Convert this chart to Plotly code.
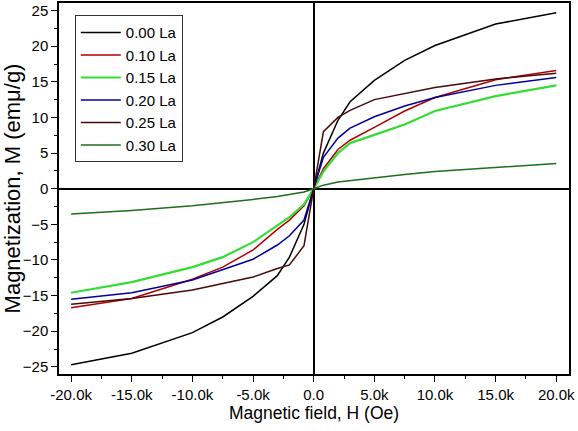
import plotly.graph_objects as go

field = [-20000, -15000, -10000, -7500, -5000, -3000, -2000, -800, 0,
         800, 2000, 3000, 5000, 7500, 10000, 15000, 20000]

m_000 = [-24.7, -23.1, -20.2, -18.0, -15.1, -12.2, -9.6, -5.0, 0,
         5.0, 9.6, 12.2, 15.2, 18.0, 20.1, 23.1, 24.7]
m_010 = [-16.7, -15.4, -12.7, -11.0, -8.6, -5.7, -4.4, -2.4, 0,
         2.8, 5.5, 6.8, 8.6, 10.9, 12.8, 15.3, 16.6]
m_015 = [-14.6, -13.1, -11.0, -9.6, -7.5, -5.2, -4.0, -2.2, 0,
         2.4, 5.0, 6.4, 7.6, 9.0, 10.9, 13.0, 14.5]
m_020 = [-15.5, -14.6, -12.8, -11.4, -9.9, -7.9, -6.6, -4.4, 0,
         4.4, 7.1, 8.5, 10.1, 11.6, 12.8, 14.5, 15.6]
m_025 = [-16.2, -15.4, -14.2, -13.3, -12.4, -11.2, -10.7, -8.0, 0,
         8.0, 10.0, 11.0, 12.5, 13.4, 14.2, 15.4, 16.2]
m_030 = [-3.55, -3.05, -2.4, -2.0, -1.5, -1.1, -0.85, -0.45, 0,
         0.5, 0.95, 1.15, 1.55, 2.0, 2.4, 3.0, 3.55]

series_names = ["0.00 La", "0.10 La", "0.15 La", "0.20 La", "0.25 La", "0.30 La"]
series_values = [m_000, m_010, m_015, m_020, m_025, m_030]
series_colors = ["#000000", "#b00000", "#33dd33", "#000099", "#4a0808", "#1e6e1e"]
series_widths = [1.5, 1.5, 2.2, 1.5, 1.5, 1.5]

x_tickvals = [-20000, -15000, -10000, -5000, 0, 5000, 10000, 15000, 20000]
x_ticktext = ["-20.0k", "-15.0k", "-10.0k", "-5.0k", "0.0", "5.0k", "10.0k", "15.0k", "20.0k"]
y_tickvals = [-25, -20, -15, -10, -5, 0, 5, 10, 15, 20, 25]

fig = go.Figure()
for name, vals, col, w in zip(series_names, series_values, series_colors, series_widths):
    fig.add_trace(go.Scatter(x=field, y=vals, mode="lines", name=name,
                             line=dict(color=col, width=w)))

font_main = "Liberation Sans, Arial, sans-serif"
fig.update_layout(
    width=578, height=431,
    margin=dict(l=59, r=9, t=3, b=57),
    plot_bgcolor="white", paper_bgcolor="white",
    font=dict(family=font_main, size=15, color="black"),
    showlegend=True,
    legend=dict(x=0.031, y=0.967, xanchor="left", yanchor="top",
                bgcolor="white", bordercolor="#333333", borderwidth=1,
                itemwidth=40,
                font=dict(size=15, family=font_main), tracegroupgap=0),
    xaxis=dict(range=[-21000, 21050], tickvals=x_tickvals, ticktext=x_ticktext,
               automargin=False,
               showgrid=False, zeroline=True, zerolinecolor="black", zerolinewidth=1.5,
               showline=True, linecolor="black", linewidth=1.5, mirror=True,
               ticks="outside", ticklen=6, tickwidth=1.2, tickcolor="black",
               minor=dict(ticks="outside", ticklen=3, dtick=2500, tick0=0, tickcolor="black"),
               title=dict(text="Magnetic field, H (Oe)", font=dict(size=17.5), standoff=4)),
    yaxis=dict(range=[-26, 26.06], tickvals=y_tickvals,
               automargin=False,
               showgrid=False, zeroline=True, zerolinecolor="black", zerolinewidth=1.5,
               showline=True, linecolor="black", linewidth=1.5, mirror=True,
               ticks="outside", ticklen=6, tickwidth=1.2, tickcolor="black",
               minor=dict(ticks="outside", ticklen=3, dtick=2.5, tick0=0, tickcolor="black"),
               title=dict(text="Magnetization, M (emμ/g)", font=dict(size=22), standoff=2)),
)

fig.write_html("out.html", config={"displayModeBar": False},
               post_script="document.body.style.margin='0';")
